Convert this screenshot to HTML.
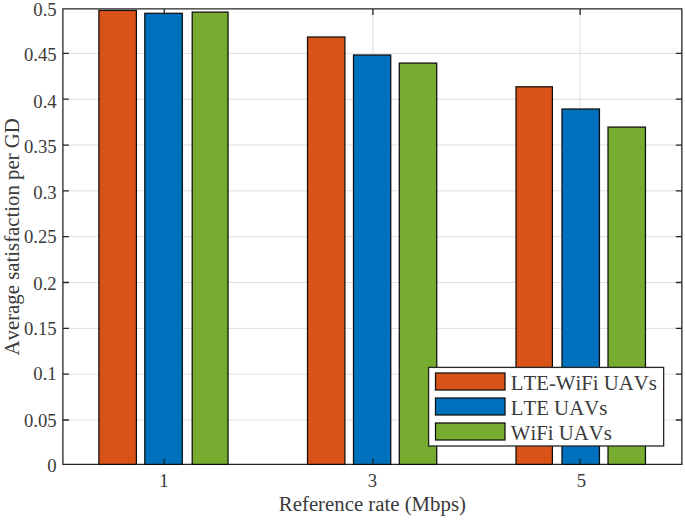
<!DOCTYPE html>
<html><head><meta charset="utf-8"><style>html,body{margin:0;padding:0;background:#fff;overflow:hidden}svg{display:block}</style></head>
<body><svg width="685" height="520" viewBox="0 0 685 520"><rect x="0" y="0" width="685" height="520" fill="#fff"/><path d="M62.9 420.00H681.85 M62.9 374.17H681.85 M62.9 328.35H681.85 M62.9 282.52H681.85 M62.9 236.70H681.85 M62.9 190.87H681.85 M62.9 145.05H681.85 M62.9 99.22H681.85 M62.9 53.40H681.85 M164.25 8.95V464.4 M372.90 8.95V464.4 M580.10 8.95V464.4" stroke="#dfdfdf" stroke-width="1" fill="none"/><path d="M62.9 8.95H681.85V464.4H62.9Z" stroke="#262626" stroke-width="1.3" fill="none"/><rect x="98.90" y="10.40" width="37.50" height="454.00" fill="#D95319" stroke="#0d0d0d" stroke-width="1.25"/><rect x="144.80" y="13.30" width="37.50" height="451.10" fill="#0072BD" stroke="#0d0d0d" stroke-width="1.25"/><rect x="192.20" y="12.10" width="35.85" height="452.30" fill="#77AC30" stroke="#0d0d0d" stroke-width="1.25"/><rect x="307.50" y="37.00" width="37.40" height="427.40" fill="#D95319" stroke="#0d0d0d" stroke-width="1.25"/><rect x="353.50" y="55.00" width="37.25" height="409.40" fill="#0072BD" stroke="#0d0d0d" stroke-width="1.25"/><rect x="399.30" y="63.10" width="37.45" height="401.30" fill="#77AC30" stroke="#0d0d0d" stroke-width="1.25"/><rect x="516.00" y="86.80" width="36.40" height="377.60" fill="#D95319" stroke="#0d0d0d" stroke-width="1.25"/><rect x="562.00" y="109.00" width="37.45" height="355.40" fill="#0072BD" stroke="#0d0d0d" stroke-width="1.25"/><rect x="608.00" y="127.10" width="37.45" height="337.30" fill="#77AC30" stroke="#0d0d0d" stroke-width="1.25"/><path d="M62.9 420.00h6M681.85 420.00h-6 M62.9 374.17h6M681.85 374.17h-6 M62.9 328.35h6M681.85 328.35h-6 M62.9 282.52h6M681.85 282.52h-6 M62.9 236.70h6M681.85 236.70h-6 M62.9 190.87h6M681.85 190.87h-6 M62.9 145.05h6M681.85 145.05h-6 M62.9 99.22h6M681.85 99.22h-6 M62.9 53.40h6M681.85 53.40h-6 M164.25 464.4v-6M164.25 8.95v6 M372.90 464.4v-6M372.90 8.95v6 M580.10 464.4v-6M580.10 8.95v6" stroke="#262626" stroke-width="1.3" fill="none"/><g font-family="'Liberation Serif'" font-size="18.7" fill="#3a3a3a" style="font-kerning:none"><text x="56.7" y="472.20" text-anchor="end">0</text><text x="56.7" y="427.10" text-anchor="end">0.05</text><text x="56.7" y="380.40" text-anchor="end">0.1</text><text x="56.7" y="335.20" text-anchor="end">0.15</text><text x="56.7" y="289.50" text-anchor="end">0.2</text><text x="56.7" y="243.10" text-anchor="end">0.25</text><text x="56.7" y="199.00" text-anchor="end">0.3</text><text x="56.7" y="153.00" text-anchor="end">0.35</text><text x="56.7" y="107.60" text-anchor="end">0.4</text><text x="56.7" y="61.30" text-anchor="end">0.45</text><text x="56.7" y="15.60" text-anchor="end">0.5</text><text x="163.8" y="487.4" text-anchor="middle">1</text><text x="372.3" y="487.4" text-anchor="middle">3</text><text x="581.3" y="487.4" text-anchor="middle">5</text></g><g font-family="'Liberation Serif'" font-size="20.8" fill="#3a3a3a" style="font-kerning:none"><text x="372.4" y="511.1" text-anchor="middle">Reference rate (Mbps)</text><text transform="translate(19.4,236.8) rotate(-90)" text-anchor="middle">Average satisfaction per GD</text></g><rect x="428.6" y="367.4" width="235.05" height="78.60" fill="#fff" stroke="#262626" stroke-width="1.3"/><rect x="435.5" y="373.0" width="69.5" height="17.0" fill="#D95319" stroke="#0d0d0d" stroke-width="1.25"/><text x="510.8" y="389.9" font-family="'Liberation Serif'" font-size="20.8" fill="#3a3a3a" style="font-kerning:none">LTE-WiFi UAVs</text><rect x="435.5" y="398.0" width="69.5" height="17.0" fill="#0072BD" stroke="#0d0d0d" stroke-width="1.25"/><text x="510.8" y="414.9" font-family="'Liberation Serif'" font-size="20.8" fill="#3a3a3a" style="font-kerning:none">LTE UAVs</text><rect x="435.5" y="423.0" width="69.5" height="17.0" fill="#77AC30" stroke="#0d0d0d" stroke-width="1.25"/><text x="510.8" y="439.9" font-family="'Liberation Serif'" font-size="20.8" fill="#3a3a3a" style="font-kerning:none">WiFi UAVs</text></svg></body></html>
